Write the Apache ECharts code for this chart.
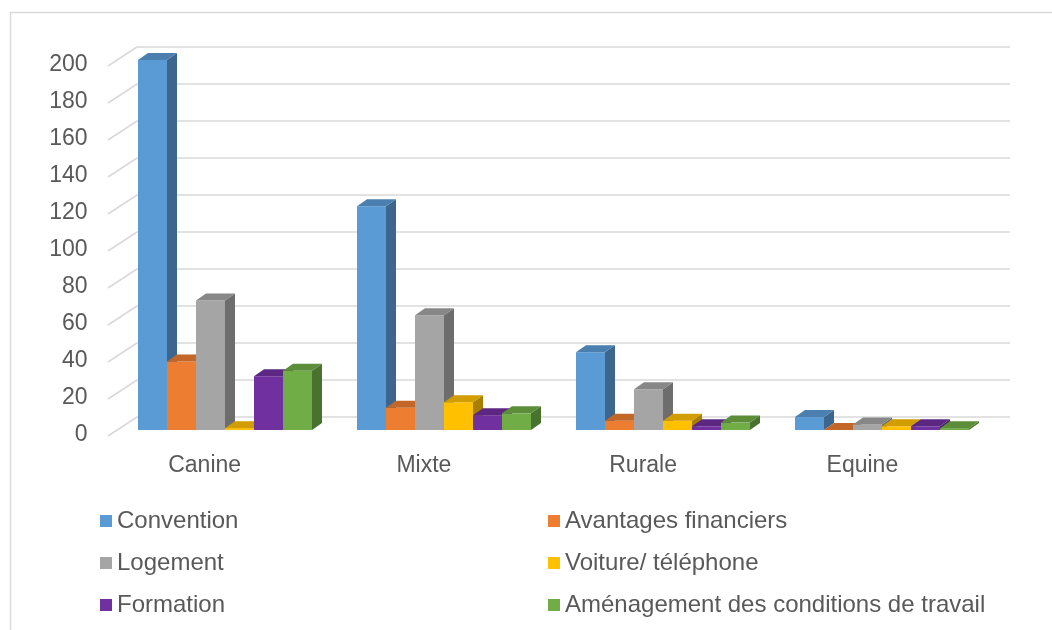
<!DOCTYPE html>
<html>
<head>
<meta charset="utf-8">
<title>Conditions proposées par type d'activité</title>
<script src="https://cdn.jsdelivr.net/npm/echarts@6/dist/echarts.min.js"></script>
<style>
  html, body { margin: 0; padding: 0; background: #ffffff; }
  #chart { width: 1052px; height: 630px; }
</style>
</head>
<body>
<div id="chart"></div>
<script>
// Activity types along the x axis
const categories = ['Canine', 'Mixte', 'Rurale', 'Equine'];

// Values per series, one entry per activity type
const convention = [200, 121, 42, 7];
const avantagesFinanciers = [37, 12, 5, 0];
const logement = [70, 62, 22, 3];
const voitureTelephone = [1, 15, 5, 2];
const formation = [29, 8, 2, 2];
const amenagement = [32, 9, 4, 1];

// Value axis scale
const yMin = 0;
const yMax = 200;
const yInterval = 20;
const yTicks = [0, 20, 40, 60, 80, 100, 120, 140, 160, 180, 200];

const seriesDefs = [
  { name: 'Convention', data: convention, color: '#5B9BD5' },
  { name: 'Avantages financiers', data: avantagesFinanciers, color: '#ED7D31' },
  { name: 'Logement', data: logement, color: '#A5A5A5' },
  { name: 'Voiture/ téléphone', data: voitureTelephone, color: '#FFC000' },
  { name: 'Formation', data: formation, color: '#7030A0' },
  { name: 'Aménagement des conditions de travail', data: amenagement, color: '#70AD47' }
];

const FONT = '"Liberation Sans", Arial, sans-serif';
const TEXT_COLOR = '#595959';
const GRID_COLOR = '#d9d9d9';

// Oblique depth of each bar (towards the back-right)
const BAR_DX = 10;
const BAR_DY = -7;
// Offset from the back wall to the front edge of the side wall
const WALL_DX = -29;
const WALL_DY = 19;
// Share of each category band taken by its group of bars
const GROUP_RATIO = 174 / 219;

function shade(hex, f) {
  const n = parseInt(hex.slice(1), 16);
  const r = Math.round(((n >> 16) & 255) * f);
  const g = Math.round(((n >> 8) & 255) * f);
  const b = Math.round((n & 255) * f);
  return 'rgb(' + r + ',' + g + ',' + b + ')';
}

function barRenderer(seriesIndex, color) {
  const topColor = shade(color, 0.82);
  const sideColor = shade(color, 0.66);
  const count = seriesDefs.length;
  return function (params, api) {
    const cat = api.value(0);
    const v = api.value(1);
    const base = api.coord([cat, 0]);
    const top = api.coord([cat, v]);
    const band = api.size([1, 0])[0];
    const groupW = band * GROUP_RATIO;
    const bw = groupW / count;
    const x0 = base[0] - groupW / 2 + seriesIndex * bw;
    const x1 = x0 + bw;
    const yb = base[1];
    const yt = top[1];
    return {
      type: 'group',
      children: [
        {
          type: 'rect',
          shape: { x: x0, y: yt, width: bw, height: yb - yt },
          style: { fill: color }
        },
        {
          type: 'polygon',
          shape: { points: [[x1, yb], [x1, yt], [x1 + BAR_DX, yt + BAR_DY], [x1 + BAR_DX, yb + BAR_DY]] },
          style: { fill: sideColor }
        },
        {
          type: 'polygon',
          shape: { points: [[x0, yt], [x1, yt], [x1 + BAR_DX, yt + BAR_DY], [x0 + BAR_DX, yt + BAR_DY]] },
          style: { fill: topColor }
        }
      ]
    };
  };
}

const chart = echarts.init(document.getElementById('chart'), null, { renderer: 'canvas' });

const barSeries = seriesDefs.map(function (s, i) {
  return {
    name: s.name,
    type: 'custom',
    xAxisIndex: 0,
    yAxisIndex: 0,
    itemStyle: { color: s.color },
    renderItem: barRenderer(i, s.color),
    data: s.data.map(function (v, c) { return [c, v]; }),
    z: 3
  };
});

const legendText = { fontSize: 24, fontFamily: FONT, color: TEXT_COLOR };

const option = {
  animation: false,
  backgroundColor: '#ffffff',
  graphic: [
    {
      type: 'rect',
      left: 8,
      top: 10,
      shape: { width: 1200, height: 800 },
      style: { fill: 'none', stroke: GRID_COLOR, lineWidth: 1.5 },
      silent: true,
      z: 0
    }
  ],
  grid: [
    // bar front plane
    { left: 115.5, right: 60.5, top: 60, bottom: 200 },
    // back wall
    { left: 137, right: 42, top: 47, bottom: 213 },
    // category label band
    { left: 95, right: 80, top: 60, bottom: 200 },
    // value labels along the front edge
    { left: 115.5, right: 60.5, top: 65, bottom: 195 }
  ],
  xAxis: [
    {
      gridIndex: 0, type: 'category', data: categories,
      axisLine: { show: false }, axisTick: { show: false }, axisLabel: { show: false },
      splitLine: { show: false }
    },
    {
      gridIndex: 1, type: 'value', min: 0, max: 1, show: false
    },
    {
      gridIndex: 2, type: 'category', data: categories,
      axisLine: { show: false }, axisTick: { show: false },
      axisLabel: { margin: 24, fontSize: 23, fontFamily: FONT, color: TEXT_COLOR },
      splitLine: { show: false }
    },
    {
      gridIndex: 3, type: 'value', min: 0, max: 1, show: false
    }
  ],
  yAxis: [
    {
      gridIndex: 0, type: 'value', min: yMin, max: yMax, interval: yInterval, show: false
    },
    {
      gridIndex: 1, type: 'value', min: yMin, max: yMax, interval: yInterval,
      axisLine: { show: false }, axisTick: { show: false }, axisLabel: { show: false },
      splitLine: { show: true, lineStyle: { color: GRID_COLOR, width: 1.5 } }
    },
    {
      gridIndex: 2, type: 'value', min: yMin, max: yMax, show: false
    },
    {
      gridIndex: 3, type: 'value', min: yMin, max: yMax, interval: yInterval,
      axisLine: { show: false }, axisTick: { show: false },
      splitLine: { show: false },
      axisLabel: { margin: 28, fontSize: 23, fontFamily: FONT, color: TEXT_COLOR }
    }
  ],
  legend: [
    {
      data: ['Convention', 'Logement', 'Formation'],
      orient: 'vertical', left: 100, top: 509, padding: 0,
      icon: 'rect', itemWidth: 12, itemHeight: 12, itemGap: 18,
      selectedMode: false,
      textStyle: legendText
    },
    {
      data: ['Avantages financiers', 'Voiture/ téléphone', 'Aménagement des conditions de travail'],
      orient: 'vertical', left: 548, top: 509, padding: 0,
      icon: 'rect', itemWidth: 12, itemHeight: 12, itemGap: 18,
      selectedMode: false,
      textStyle: legendText
    }
  ],
  series: [
    {
      // side-wall grid lines joining the front edge to the back wall
      type: 'custom',
      xAxisIndex: 1,
      yAxisIndex: 1,
      silent: true,
      z: 1,
      renderItem: function (params, api) {
        const p = api.coord([0, api.value(0)]);
        return {
          type: 'line',
          shape: { x1: p[0] + WALL_DX, y1: p[1] + WALL_DY, x2: p[0], y2: p[1] },
          style: { stroke: GRID_COLOR, lineWidth: 1.5 }
        };
      },
      data: yTicks.map(function (t) { return [t]; })
    }
  ].concat(barSeries)
};

chart.setOption(option);
</script>
</body>
</html>
